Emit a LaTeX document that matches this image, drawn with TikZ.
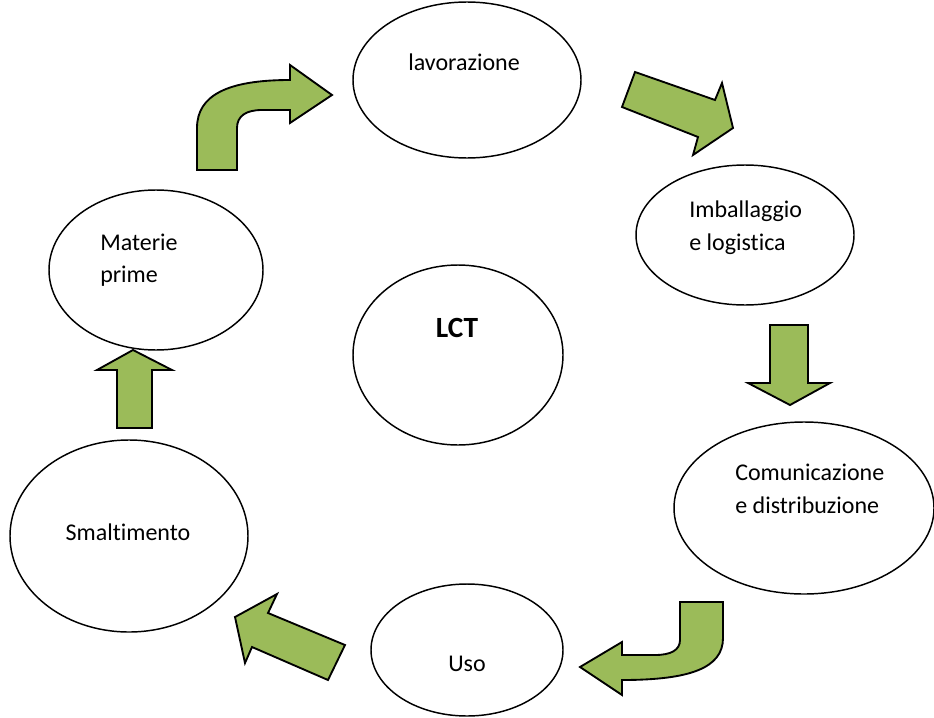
\documentclass[tikz,border=0pt]{standalone}
\usepackage{fontspec}
\setmainfont{Carlito}[Ligatures={NoCommon}]
\usetikzlibrary{shapes.geometric}
\definecolor{leaf}{HTML}{9BBB59}
\tikzset{
  oval/.style={ellipse, draw=black, line width=1.1pt, inner sep=0pt},
  lbl/.style={font=\fontsize{18}{22}\selectfont, inner sep=0pt, anchor=base west},
  blockarrow/.style={fill=leaf, draw=black, line width=1.4pt, line join=miter}
}
\begin{document}
\begin{tikzpicture}[x=0.75pt, y=-0.75pt]
\useasboundingbox (0,0) rectangle (934,717);

% stages of the cycle
\node[oval, minimum width={0.75pt*228}, minimum height={0.75pt*156}] (lav) at (467,80) {};
\node[oval, minimum width={0.75pt*218}, minimum height={0.75pt*140}] (imb) at (745,235) {};
\node[oval, minimum width={0.75pt*260}, minimum height={0.75pt*172}] (com) at (804,508) {};
\node[oval, minimum width={0.75pt*192}, minimum height={0.75pt*132}] (uso) at (467,650) {};
\node[oval, minimum width={0.75pt*238}, minimum height={0.75pt*192}] (sma) at (129,536) {};
\node[oval, minimum width={0.75pt*214}, minimum height={0.75pt*160}] (mat) at (156,270) {};
\node[oval, minimum width={0.75pt*210}, minimum height={0.75pt*180}] (lct) at (458,355) {};

% labels
\node[lbl, anchor=base] (tlav) at (464,70) {lavorazione};
\node[lbl] (timb1) at (689,217) {Imballaggio};
\node[lbl] (timb2) at (689,250) {e logistica};
\node[lbl] (tcom1) at (735,480) {Comunicazione};
\node[lbl] (tcom2) at (735,513) {e distribuzione};
\node[lbl, anchor=base] (tuso) at (467,671) {Uso};
\node[lbl, anchor=base] (tsma) at (128,540) {Smaltimento};
\node[lbl] (tmat1) at (100,250) {Materie};
\node[lbl] (tmat2) at (100,282) {prime};
\node[lbl, anchor=base, font=\fontsize{22}{26}\selectfont\bfseries] (tlct) at (457,337) {LCT};

% bent arrow: materie prime -> lavorazione
\draw[blockarrow] (197,170) -- (197,128)
  .. controls (197,95) and (228,80) .. (290,80)
  -- (290,65) -- (332,95) -- (290,123) -- (290,110) -- (262,110)
  .. controls (246,110) and (237,116) .. (237,128)
  -- (237,170) -- cycle;

% diagonal arrow: lavorazione -> imballaggio
\draw[blockarrow] (635,72) -- (715,100) -- (722,83) -- (733,128)
  -- (693,155) -- (698,137) -- (622,107) -- cycle;

% down arrow: imballaggio -> comunicazione
\draw[blockarrow] (770,325) -- (808,325) -- (808,383) -- (830,383)
  -- (790,405) -- (748,383) -- (770,383) -- cycle;

% bent arrow: comunicazione -> uso
\draw[blockarrow] (723,602) -- (723,638)
  .. controls (723,668) and (690,680) .. (622,680)
  -- (622,695) -- (580,667) -- (622,642) -- (622,655) -- (655,655)
  .. controls (671,655) and (680,650) .. (680,640)
  -- (680,602) -- cycle;

% diagonal arrow: uso -> smaltimento
\draw[blockarrow] (235,617) -- (277,594) -- (268,613) -- (345,645)
  -- (328,680) -- (252,647) -- (245,663) -- cycle;

% up arrow: smaltimento -> materie prime
\draw[blockarrow] (117,428) -- (117,370) -- (97,370) -- (133,350)
  -- (172,370) -- (152,370) -- (152,428) -- cycle;
\end{tikzpicture}
\end{document}
